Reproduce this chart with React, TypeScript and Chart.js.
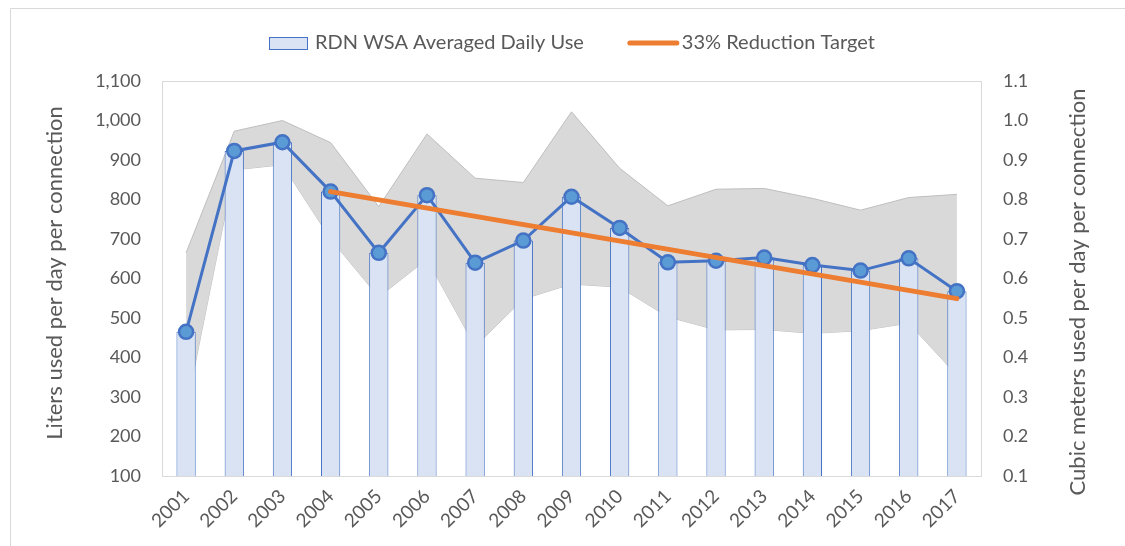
import React, { useEffect, useRef } from 'react';
import { Chart, registerables } from 'chart.js';

Chart.register(...registerables);

const years = ['2001', '2002', '2003', '2004', '2005', '2006', '2007', '2008', '2009', '2010', '2011', '2012', '2013', '2014', '2015', '2016', '2017'];
const dailyUse = [465, 923, 945, 820, 665, 811, 640, 696, 807, 728, 641, 645, 653, 634, 620, 651, 568];
const rangeHigh = [665, 973, 1000, 944, 782, 966, 854, 843, 1022, 879, 784, 826, 828, 803, 773, 805, 813];
const rangeLow = [270, 875, 888, 700, 553, 649, 428, 548, 586, 578, 503, 470, 471, 461, 468, 487, 355];
const reductionTarget = [null, null, null, 820, null, null, null, null, null, null, null, null, null, null, null, null, 549];
const litersTicks = [100, 200, 300, 400, 500, 600, 700, 800, 900, 1000, 1100];
const cubicTicks = [0.1, 0.2, 0.3, 0.4, 0.5, 0.6, 0.7, 0.8, 0.9, 1.0, 1.1];

const barLabel = 'RDN WSA Averaged Daily Use';
const targetLabel = '33% Reduction Target';
const leftTitle = 'Liters used per day per connection';
const rightTitle = 'Cubic meters used per day per connection';

const FONT = 'Lato, "Open Sans", sans-serif';
const TEXT = '#595959';
const BAR_FILL = '#dae3f3';
const BLUE = '#4472c4';
const MARKER = '#5b9bd5';
const ORANGE = '#ed7d31';
const BAND = '#d9d9d9';
const BAND_EDGE = '#bfbfbf';

const decorPlugin = {
  id: 'decor',
  beforeDraw(chart: any) {
    const { ctx, width, height } = chart;
    ctx.save();
    ctx.fillStyle = '#ffffff';
    ctx.fillRect(0, 0, width, height);
    ctx.strokeStyle = '#d9d9d9';
    ctx.lineWidth = 1;
    ctx.beginPath();
    ctx.moveTo(10.5, height);
    ctx.lineTo(10.5, 8.5);
    ctx.lineTo(width, 8.5);
    ctx.stroke();
    ctx.restore();
  },
  beforeDatasetsDraw(chart: any) {
    const { ctx, chartArea } = chart;
    ctx.save();
    ctx.strokeStyle = '#d9d9d9';
    ctx.lineWidth = 1;
    ctx.strokeRect(
      Math.round(chartArea.left) + 0.5,
      Math.round(chartArea.top) + 0.5,
      Math.round(chartArea.right - chartArea.left),
      Math.round(chartArea.bottom - chartArea.top)
    );
    ctx.restore();
  },
  afterDraw(chart: any) {
    const { ctx } = chart;
    ctx.save();
    // legend
    ctx.font = `20px ${FONT}`;
    ctx.textBaseline = 'middle';
    ctx.textAlign = 'left';
    const w1 = ctx.measureText(barLabel).width;
    const w2 = ctx.measureText(targetLabel).width;
    const boxW = 38, gap1 = 8, itemGap = 44, lineW = 51, gap2 = 3;
    const total = boxW + gap1 + w1 + itemGap + lineW + gap2 + w2;
    let x = 572 - total / 2;
    const cy = 43;
    ctx.fillStyle = BAR_FILL;
    ctx.fillRect(x, cy - 6, boxW, 12);
    ctx.strokeStyle = BLUE;
    ctx.lineWidth = 1;
    ctx.strokeRect(Math.round(x) + 0.5, cy - 6 + 0.5, boxW, 12);
    x += boxW + gap1;
    ctx.fillStyle = TEXT;
    ctx.fillText(barLabel, x, cy);
    x += w1 + itemGap;
    ctx.strokeStyle = ORANGE;
    ctx.lineWidth = 5;
    ctx.lineCap = 'round';
    ctx.beginPath();
    ctx.moveTo(x + 2, cy);
    ctx.lineTo(x + lineW - 2, cy);
    ctx.stroke();
    x += lineW + gap2;
    ctx.fillStyle = TEXT;
    ctx.fillText(targetLabel, x, cy);

    // axis titles
    ctx.font = `22px ${FONT}`;
    ctx.textAlign = 'center';
    ctx.fillStyle = TEXT;
    ctx.save();
    ctx.translate(55, 273);
    ctx.rotate(-Math.PI / 2);
    ctx.fillText(leftTitle, 0, 0);
    ctx.restore();
    ctx.save();
    ctx.translate(1078, 292);
    ctx.rotate(-Math.PI / 2);
    ctx.fillText(rightTitle, 0, 0);
    ctx.restore();
    ctx.restore();
  },
};

export default function App() {
  const canvasRef = useRef<HTMLCanvasElement | null>(null);

  useEffect(() => {
    document.body.style.margin = '0';
    const canvas = canvasRef.current;
    if (!canvas) return;
    Chart.defaults.font.family = FONT;
    Chart.defaults.color = TEXT;

    const chart = new Chart(canvas, {
      type: 'bar',
      data: {
        labels: years,
        datasets: [
          {
            type: 'line',
            label: 'Low',
            data: rangeLow,
            borderColor: BAND_EDGE,
            borderWidth: 1,
            pointRadius: 0,
            fill: false,
            tension: 0,
            order: 6,
          } as any,
          {
            type: 'line',
            label: 'High',
            data: rangeHigh,
            borderColor: BAND_EDGE,
            backgroundColor: BAND,
            borderWidth: 1,
            pointRadius: 0,
            fill: '-1',
            tension: 0,
            order: 5,
          } as any,
          {
            type: 'bar',
            label: barLabel,
            data: dailyUse,
            backgroundColor: BAR_FILL,
            borderColor: BLUE,
            borderWidth: 1,
            barPercentage: 0.4,
            categoryPercentage: 1,
            order: 4,
          } as any,
          {
            type: 'line',
            label: 'Daily use',
            data: dailyUse,
            borderColor: BLUE,
            borderWidth: 3,
            pointRadius: 7,
            pointBackgroundColor: MARKER,
            pointBorderColor: BLUE,
            pointBorderWidth: 2.5,
            fill: false,
            tension: 0,
            order: 3,
          } as any,
          {
            type: 'line',
            label: targetLabel,
            data: reductionTarget,
            borderColor: ORANGE,
            borderWidth: 5,
            borderCapStyle: 'round',
            pointRadius: 0,
            spanGaps: true,
            fill: false,
            tension: 0,
            order: 1,
          } as any,
        ],
      },
      options: {
        animation: false,
        responsive: false,
        devicePixelRatio: 1,
        layout: { padding: { left: 10, top: 81, right: 0, bottom: 0 } },
        plugins: {
          legend: { display: false },
          tooltip: { enabled: false },
        },
        scales: {
          x: {
            grid: { display: false, drawTicks: false },
            border: { display: false },
            ticks: {
              autoSkip: false,
              maxRotation: 45,
              minRotation: 45,
              padding: 9,
              color: TEXT,
              font: { size: 19, family: FONT },
            },
            afterFit: (scale: any) => {
              scale.height = 70;
            },
          },
          y: {
            position: 'left',
            min: 100,
            max: 1100,
            grid: { display: false, drawTicks: false },
            border: { display: false },
            afterBuildTicks: (scale: any) => {
              scale.ticks = litersTicks.map((v) => ({ value: v }));
            },
            ticks: {
              padding: 21,
              color: TEXT,
              font: { size: 18, family: FONT },
              callback: (v: any) => Number(v).toLocaleString('en-US'),
            },
            afterFit: (scale: any) => {
              scale.width = 152;
            },
          },
          y1: {
            position: 'right',
            min: 0.1,
            max: 1.1,
            grid: { display: false, drawTicks: false },
            border: { display: false },
            afterBuildTicks: (scale: any) => {
              scale.ticks = cubicTicks.map((v) => ({ value: v }));
            },
            ticks: {
              padding: 22,
              color: TEXT,
              font: { size: 18, family: FONT },
              callback: (v: any) => Number(v).toFixed(1),
            },
            afterFit: (scale: any) => {
              scale.width = 144;
            },
          },
        },
      },
      plugins: [decorPlugin],
    });

    return () => {
      chart.destroy();
    };
  }, []);

  return (
    <div style={{ width: 1125, height: 546 }}>
      <canvas ref={canvasRef} width={1125} height={546} style={{ display: 'block' }} />
    </div>
  );
}
